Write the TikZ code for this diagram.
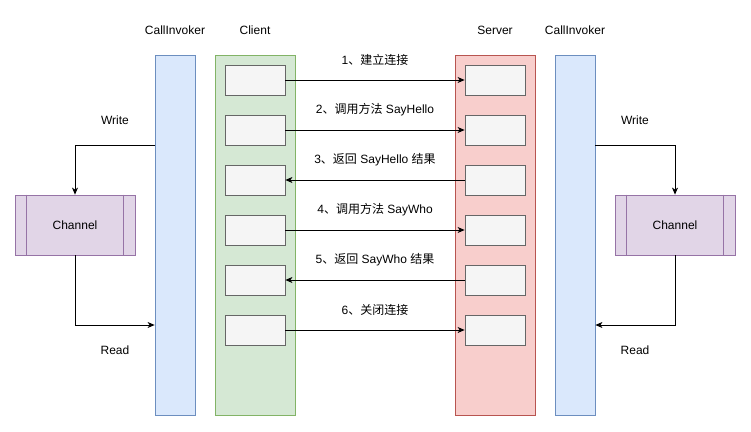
\documentclass[tikz,border=0pt]{standalone}
\usepackage{fontspec}
\setmainfont{Liberation Sans}
\newfontfamily\cjk{Noto Sans CJK SC}
\usetikzlibrary{arrows.meta,positioning}
\definecolor{blueF}{HTML}{DAE8FC}
\definecolor{blueD}{HTML}{6C8EBF}
\definecolor{greenF}{HTML}{D5E8D4}
\definecolor{greenD}{HTML}{82B366}
\definecolor{redF}{HTML}{F8CECC}
\definecolor{redD}{HTML}{B85450}
\definecolor{greyF}{HTML}{F5F5F5}
\definecolor{greyD}{HTML}{666666}
\definecolor{purpleF}{HTML}{E1D5E7}
\definecolor{purpleD}{HTML}{9673A6}
\tikzset{
    lane style ci/.style={draw=blueD,fill=blueF,line width=0.8pt,minimum width=40pt,minimum height=360pt,inner sep=0pt},
    lane style cl/.style={draw=greenD,fill=greenF,line width=0.8pt,minimum width=80pt,minimum height=360pt,inner sep=0pt},
    lane style sv/.style={draw=redD,fill=redF,line width=0.8pt,minimum width=80pt,minimum height=360pt,inner sep=0pt},
    box style/.style={draw=greyD,fill=greyF,line width=0.8pt,minimum width=60pt,minimum height=30pt,inner sep=0pt},
    chan style/.style={draw=purpleD,fill=purpleF,line width=0.8pt,minimum width=120pt,minimum height=60pt,inner sep=0pt},
    arrow style msg/.style={line width=0.8pt,-{Stealth[length=7pt,width=6pt,inset=2pt]}},
    label style/.style={font=\fontsize{12}{14}\selectfont,inner sep=0pt},
}

\begin{document}
\begin{tikzpicture}[x=1pt,y=-1pt,every node/.style={font=\fontsize{12}{14}\selectfont}]
\useasboundingbox (0,0) rectangle (751,431);

% lanes
\node[lane style ci] (ciL) at (175,235) {};
\node[lane style cl] (cl)  at (255,235) {};
\node[lane style sv] (sv)  at (495,235) {};
\node[lane style ci] (ciR) at (575,235) {};

\node[label style] (tciL) at (175,30) {CallInvoker};
\node[label style] (tcl)  at (255,30) {Client};
\node[label style] (tsv)  at (495,30) {Server};
\node[label style] (tciR) at (575,30) {CallInvoker};

% client boxes
\node[box style] (c1) at (255,80) {};
\node[box style] (c2) at (255,130) {};
\node[box style] (c3) at (255,180) {};
\node[box style] (c4) at (255,230) {};
\node[box style] (c5) at (255,280) {};
\node[box style] (c6) at (255,330) {};

% server boxes
\node[box style] (s1) at (495,80) {};
\node[box style] (s2) at (495,130) {};
\node[box style] (s3) at (495,180) {};
\node[box style] (s4) at (495,230) {};
\node[box style] (s5) at (495,280) {};
\node[box style] (s6) at (495,330) {};

% messages
\draw[arrow style msg] (c1.east) -- node[label style,above=14pt] {1{\cjk 、建立连接}} (s1.west);
\draw[arrow style msg] (c2.east) -- node[label style,above=14pt] {2{\cjk 、调用方法} SayHello} (s2.west);
\draw[arrow style msg] (s3.west) -- node[label style,above=14pt] {3{\cjk 、返回} SayHello {\cjk 结果}} (c3.east);
\draw[arrow style msg] (c4.east) -- node[label style,above=14pt] {4{\cjk 、调用方法} SayWho} (s4.west);
\draw[arrow style msg] (s5.west) -- node[label style,above=14pt] {5{\cjk 、返回} SayWho {\cjk 结果}} (c5.east);
\draw[arrow style msg] (c6.east) -- node[label style,above=14pt] {6{\cjk 、关闭连接}} (s6.west);

% channels
\node[chan style] (chL) at (75,225) {Channel};
\draw[purpleD,line width=0.8pt] ([xshift=12pt]chL.north west) -- ([xshift=12pt]chL.south west);
\draw[purpleD,line width=0.8pt] ([xshift=-12pt]chL.north east) -- ([xshift=-12pt]chL.south east);
\node[chan style] (chR) at (675,225) {Channel};
\draw[purpleD,line width=0.8pt] ([xshift=12pt]chR.north west) -- ([xshift=12pt]chR.south west);
\draw[purpleD,line width=0.8pt] ([xshift=-12pt]chR.north east) -- ([xshift=-12pt]chR.south east);

\draw[arrow style msg] ([yshift=90pt]ciL.west) -| (chL.north);
\draw[arrow style msg] (chL.south) |- ([yshift=-90pt]ciL.west);
\draw[arrow style msg] ([yshift=90pt]ciR.east) -| (chR.north);
\draw[arrow style msg] (chR.south) |- ([yshift=-90pt]ciR.east);

\node[label style] (wL) at (115,120) {Write};
\node[label style] (rL) at (115,350) {Read};
\node[label style] (wR) at (635,120) {Write};
\node[label style] (rR) at (635,350) {Read};

\end{tikzpicture}
\end{document}
